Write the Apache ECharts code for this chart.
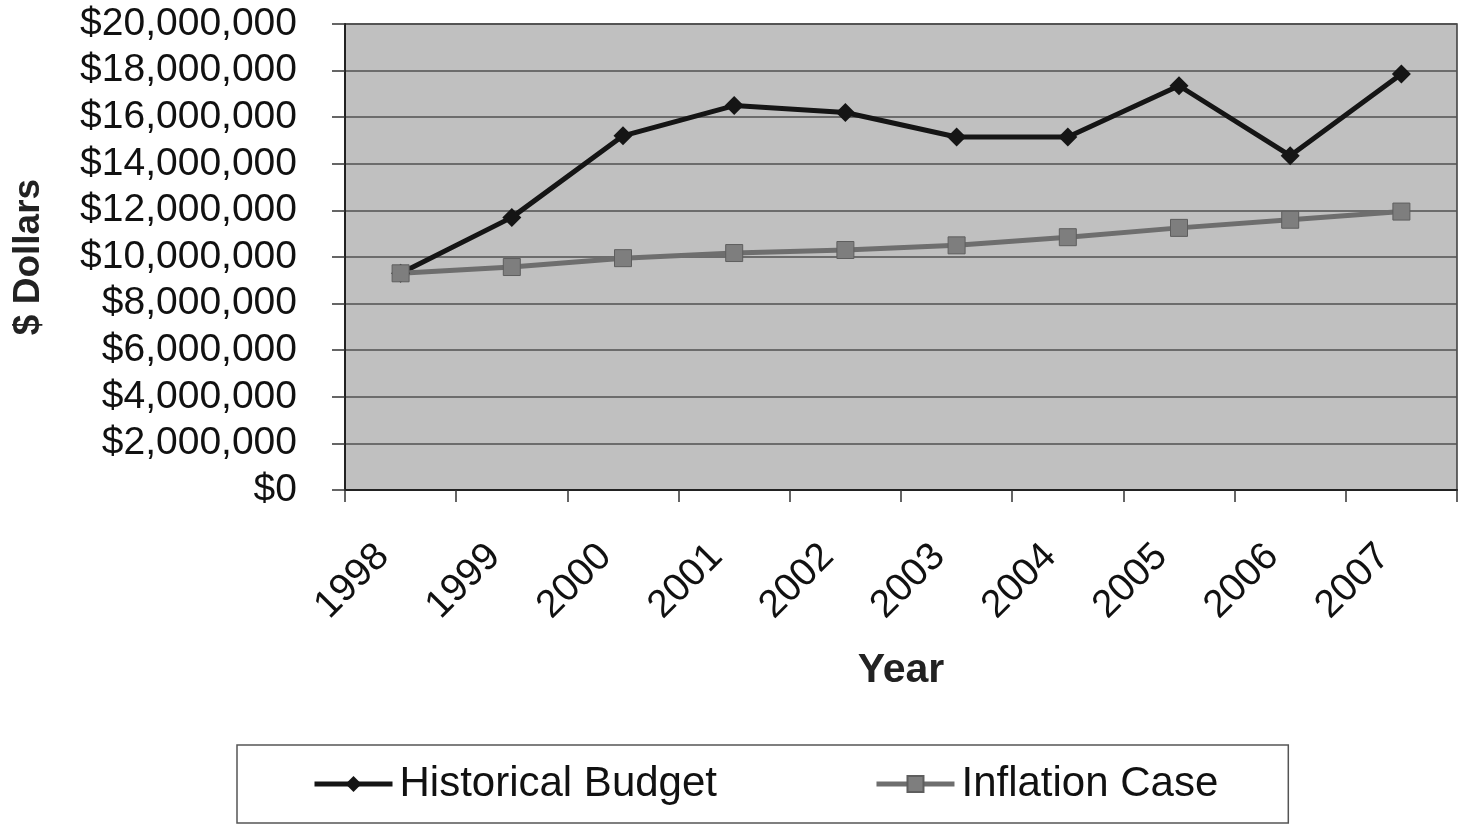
<!DOCTYPE html>
<html>
<head>
<meta charset="utf-8">
<script src="https://cdn.jsdelivr.net/npm/echarts@6/dist/echarts.min.js"></script>
<style>
  html, body { margin: 0; padding: 0; background: #fff; }
  #main { width: 1464px; height: 826px; }
</style>
</head>
<body>
<div id="main"></div>
<script>
var years = ['1998', '1999', '2000', '2001', '2002', '2003', '2004', '2005', '2006', '2007'];
var historicalBudget = [9300000, 11700000, 15200000, 16500000, 16200000, 15150000, 15150000, 17350000, 14350000, 17850000];
var inflationCase = [9300000, 9570000, 9950000, 10170000, 10300000, 10500000, 10850000, 11250000, 11600000, 11950000];

function dollars(v) {
    return '$' + String(v).replace(/\B(?=(\d{3})+(?!\d))/g, ',');
}

var font = '"Liberation Sans", Arial, sans-serif';
var myChart = echarts.init(document.getElementById('main'));
var option = {
    backgroundColor: '#ffffff',
    animation: false,
    textStyle: { fontFamily: font, color: '#111' },
    grid: {
        left: 345,
        right: 7,
        top: 24,
        bottom: 336,
        containLabel: false,
        outerBoundsMode: 'none',
        show: true,
        backgroundColor: '#c0c0c0',
        borderColor: '#3a3a3a',
        borderWidth: 1.5
    },
    legend: {
        left: 237,
        top: 745,
        padding: [18, 70, 18, 75],
        itemGap: 157,
        itemWidth: 78,
        itemHeight: 20,
        borderColor: '#555',
        borderWidth: 1.5,
        backgroundColor: '#fff',
        lineStyle: { width: 5 },
        textStyle: { fontSize: 42, fontFamily: font, color: '#111', padding: [0, 0, 0, 2] },
        data: ['Historical Budget', 'Inflation Case']
    },
    xAxis: {
        type: 'category',
        data: years,
        boundaryGap: true,
        name: 'Year',
        nameLocation: 'middle',
        nameGap: 160,
        nameTextStyle: { fontSize: 41, fontWeight: 'bold', fontFamily: font, color: '#222' },
        axisLine: { lineStyle: { color: '#222', width: 2 } },
        axisTick: { show: true, length: 12, lineStyle: { color: '#333', width: 1.5 } },
        axisLabel: { rotate: 45, margin: 43, padding: [0, 25, 0, 0], fontSize: 39, fontFamily: font, color: '#111' },
        splitLine: { show: false }
    },
    yAxis: {
        type: 'value',
        min: 0,
        max: 20000000,
        interval: 2000000,
        name: '$ Dollars',
        nameLocation: 'middle',
        nameGap: 298,
        nameTextStyle: { fontSize: 37, fontWeight: 'bold', fontFamily: font, color: '#222' },
        axisLine: { show: true, lineStyle: { color: '#222', width: 2 } },
        axisTick: { show: true, length: 13, lineStyle: { color: '#333', width: 1.5 } },
        axisLabel: { margin: 48, fontSize: 39, fontFamily: font, color: '#111', formatter: dollars },
        splitLine: { show: true, lineStyle: { color: '#505050', width: 1.5 } }
    },
    series: [
        {
            name: 'Historical Budget',
            type: 'line',
            data: historicalBudget,
            symbol: 'diamond',
            symbolSize: 19,
            lineStyle: { color: '#151515', width: 5 },
            itemStyle: { color: '#151515' }
        },
        {
            name: 'Inflation Case',
            type: 'line',
            data: inflationCase,
            symbol: 'rect',
            symbolSize: 17,
            lineStyle: { color: '#6e6e6e', width: 5 },
            itemStyle: { color: '#7e7e7e', borderColor: '#5e5e5e', borderWidth: 1 }
        }
    ]
};
myChart.setOption(option);
</script>
</body>
</html>
